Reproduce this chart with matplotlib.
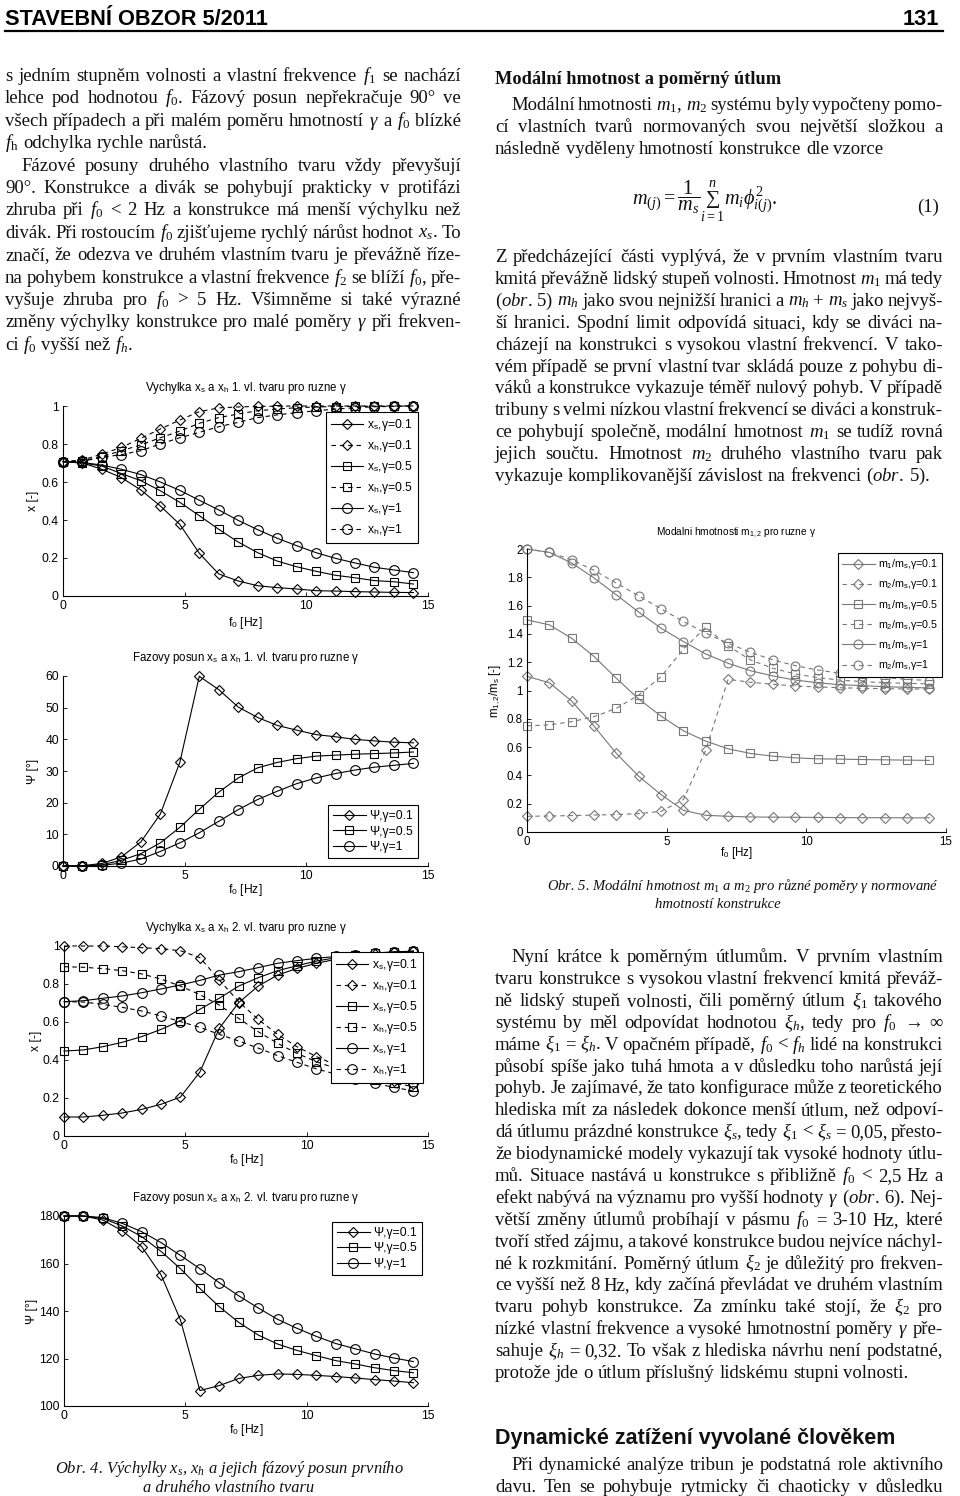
import matplotlib
matplotlib.use('Agg')
import matplotlib.pyplot as plt
from matplotlib.lines import Line2D
from matplotlib.ticker import FuncFormatter

plt.rcParams['mathtext.fontset'] = 'custom'
plt.rcParams['mathtext.rm'] = 'Liberation Serif'
plt.rcParams['mathtext.it'] = 'Liberation Serif:italic'
plt.rcParams['mathtext.bf'] = 'Liberation Serif:bold'

SERIF = ['Liberation Serif', 'DejaVu Serif']
SANS = ['Liberation Sans', 'DejaVu Sans']
NARROW = ['Liberation Sans Narrow', 'Liberation Sans', 'DejaVu Sans']

# ---------------- data ----------------
F0 = [0.0, 0.8, 1.6, 2.4, 3.2, 4.0, 4.8, 5.6, 6.4, 7.2, 8.0, 8.8, 9.6, 10.4, 11.2, 12.0, 12.8, 13.6, 14.4]

# first mode amplitudes
xs1_g01 = [0.707, 0.700, 0.667, 0.623, 0.558, 0.474, 0.377, 0.225, 0.116, 0.079, 0.054, 0.044, 0.037, 0.028, 0.026, 0.023, 0.021, 0.019, 0.018]
xh1_g01 = [0.707, 0.716, 0.747, 0.782, 0.830, 0.879, 0.926, 0.970, 0.990, 0.995, 0.998, 0.999, 1.0, 1.0, 1.0, 1.0, 1.0, 1.0, 1.0]
xs1_g05 = [0.707, 0.700, 0.684, 0.644, 0.607, 0.554, 0.493, 0.423, 0.351, 0.284, 0.228, 0.184, 0.154, 0.130, 0.109, 0.096, 0.081, 0.075, 0.063]
xh1_g05 = [0.707, 0.712, 0.733, 0.765, 0.795, 0.833, 0.868, 0.909, 0.939, 0.958, 0.975, 0.984, 0.991, 0.995, 0.997, 0.998, 0.999, 1.0, 1.0]
xs1_g1 = [0.707, 0.703, 0.689, 0.667, 0.639, 0.600, 0.556, 0.504, 0.453, 0.398, 0.349, 0.304, 0.265, 0.228, 0.198, 0.174, 0.151, 0.137, 0.123]
xh1_g1 = [0.707, 0.709, 0.730, 0.744, 0.765, 0.800, 0.833, 0.861, 0.891, 0.914, 0.939, 0.953, 0.965, 0.975, 0.984, 0.991, 0.996, 0.998, 1.0]

# first mode phase
psi1_g01 = [0, 0.1, 0.8, 2.9, 7.6, 16.4, 32.7, 59.9, 55.7, 50.2, 46.9, 44.4, 42.9, 41.5, 40.8, 40.0, 39.5, 39.1, 38.9]
psi1_g05 = [0, 0.05, 0.4, 1.8, 3.9, 7.3, 12.2, 17.9, 23.3, 27.8, 31.0, 32.7, 33.9, 34.7, 35.0, 35.3, 35.5, 35.7, 36.0]
psi1_g1 = [0, 0, 0.2, 0.9, 2.2, 4.6, 7.3, 10.5, 14.1, 17.8, 21.0, 23.6, 26.0, 27.8, 29.2, 30.3, 31.2, 31.8, 32.4]

# second mode amplitudes
xs2_g01 = [0.100, 0.100, 0.109, 0.121, 0.140, 0.167, 0.205, 0.337, 0.567, 0.702, 0.789, 0.847, 0.882, 0.909, 0.930, 0.948, 0.960, 0.967, 0.972]
xh2_g01 = [1.0, 1.0, 1.0, 0.996, 0.991, 0.986, 0.975, 0.939, 0.821, 0.707, 0.614, 0.535, 0.470, 0.418, 0.374, 0.330, 0.307, 0.289, 0.274]
xs2_g05 = [0.447, 0.453, 0.470, 0.493, 0.523, 0.561, 0.607, 0.667, 0.725, 0.789, 0.833, 0.870, 0.896, 0.921, 0.938, 0.952, 0.962, 0.968, 0.972]
xh2_g05 = [0.891, 0.888, 0.881, 0.870, 0.853, 0.826, 0.789, 0.744, 0.689, 0.619, 0.549, 0.488, 0.435, 0.391, 0.356, 0.321, 0.295, 0.277, 0.260]
xs2_g1 = [0.707, 0.712, 0.725, 0.737, 0.754, 0.774, 0.795, 0.819, 0.847, 0.865, 0.886, 0.909, 0.923, 0.935, 0.945, 0.955, 0.963, 0.969, 0.973]
xh2_g1 = [0.707, 0.705, 0.693, 0.677, 0.658, 0.632, 0.602, 0.572, 0.535, 0.500, 0.463, 0.423, 0.388, 0.353, 0.326, 0.300, 0.277, 0.256, 0.237]

# second mode phase
psi2_g01 = [180, 180, 178.3, 173.8, 167.1, 155.2, 136.2, 106.5, 108.6, 111.6, 112.9, 113.5, 113.3, 112.9, 112.4, 111.8, 111.1, 110.5, 109.8]
psi2_g05 = [180, 180, 179.0, 175.8, 171.3, 165.1, 157.8, 149.5, 141.8, 135.2, 129.9, 126.1, 123.4, 121.2, 119.1, 117.7, 116.1, 114.9, 114.0]
psi2_g1 = [180, 180, 179.3, 176.9, 173.4, 168.8, 163.4, 157.8, 151.9, 146.4, 141.3, 136.5, 132.7, 129.3, 126.3, 124.1, 121.9, 120.2, 118.7]

# modal masses
m1_g01 = [1.10, 1.055, 0.925, 0.748, 0.555, 0.394, 0.264, 0.153, 0.118, 0.111, 0.106, 0.105, 0.104, 0.103, 0.102, 0.101, 0.101, 0.100, 0.100]
m2_g01 = [0.111, 0.113, 0.116, 0.120, 0.123, 0.130, 0.146, 0.229, 0.579, 1.079, 1.058, 1.044, 1.032, 1.025, 1.020, 1.015, 1.013, 1.011, 1.010]
m1_g05 = [1.499, 1.464, 1.369, 1.240, 1.086, 0.940, 0.819, 0.715, 0.642, 0.588, 0.555, 0.536, 0.524, 0.517, 0.515, 0.512, 0.510, 0.508, 0.506]
m2_g05 = [0.750, 0.757, 0.780, 0.815, 0.874, 0.968, 1.098, 1.292, 1.447, 1.315, 1.216, 1.157, 1.117, 1.091, 1.074, 1.063, 1.055, 1.051, 1.046]
m1_g1 = [2.0, 1.976, 1.901, 1.795, 1.676, 1.554, 1.440, 1.346, 1.258, 1.192, 1.140, 1.103, 1.074, 1.055, 1.041, 1.034, 1.027, 1.022, 1.018]
m2_g1 = [2.0, 1.976, 1.924, 1.849, 1.759, 1.669, 1.577, 1.488, 1.405, 1.334, 1.270, 1.216, 1.176, 1.145, 1.122, 1.105, 1.091, 1.079, 1.070]

X_TICKS = [0, 5, 10, 15]
Y_TICKS_X = [0, 0.2, 0.4, 0.6, 0.8, 1]
Y_TICKS_PSI1 = [0, 10, 20, 30, 40, 50, 60]
Y_TICKS_PSI2 = [100, 120, 140, 160, 180]
Y_TICKS_M = [0, 0.2, 0.4, 0.6, 0.8, 1, 1.2, 1.4, 1.6, 1.8, 2]

LAB_X = [r"x$_\mathregular{s}$,γ=0.1", r"x$_\mathregular{h}$,γ=0.1", r"x$_\mathregular{s}$,γ=0.5",
         r"x$_\mathregular{h}$,γ=0.5", r"x$_\mathregular{s}$,γ=1", r"x$_\mathregular{h}$,γ=1"]
LAB_PSI = ["Ψ,γ=0.1", "Ψ,γ=0.5", "Ψ,γ=1"]
LAB_M = [r"m$_\mathregular{1}$/m$_\mathregular{s}$,γ=0.1", r"m$_\mathregular{2}$/m$_\mathregular{s}$,γ=0.1",
         r"m$_\mathregular{1}$/m$_\mathregular{s}$,γ=0.5", r"m$_\mathregular{2}$/m$_\mathregular{s}$,γ=0.5",
         r"m$_\mathregular{1}$/m$_\mathregular{s}$,γ=1", r"m$_\mathregular{2}$/m$_\mathregular{s}$,γ=1"]

# ---------------- figure ----------------
W, H = 960, 1496
fig = plt.figure(figsize=(W / 100, H / 100), dpi=100)
fig.patch.set_facecolor('white')
renderer = fig.canvas.get_renderer()


def fx(px):
    return px / W


def fy(py):
    return 1 - py / H


def measure(s, fs, **kw):
    t = fig.text(0, 0, s, fontsize=fs, **kw)
    w = t.get_window_extent(renderer).width
    t.remove()
    return w


def fit(s, target, **kw):
    return 12 * target / measure(s, 12, **kw)


def text_line(s, x0, x1, y, fs, justify=True, indent=0, **kw):
    words = s.split(' ')
    objs = [fig.text(0, fy(y), w, fontsize=fs, va='baseline', ha='left', color='#111111', **kw) for w in words]
    widths = [o.get_window_extent(renderer).width for o in objs]
    start = x0 + indent
    n = len(words)
    if justify and n > 1:
        gap = (x1 - start - sum(widths)) / (n - 1)
    else:
        gap = fs * 100 / 72 * 0.25
    x = start
    for o, w in zip(objs, widths):
        o.set_x(fx(x))
        x += w + gap


def block(lines, x0, x1, y0, dy, fs, **kw):
    for k, (s, ind, just) in enumerate(lines):
        text_line(s, x0, x1, y0 + k * dy, fs, justify=just, indent=ind, **kw)


# ---------------- header ----------------
fs_head = fit("STAVEBNÍ OBZOR 5/2011", 262, family=NARROW, weight='bold')
fig.text(fx(5), fy(25), "STAVEBNÍ OBZOR 5/2011", fontsize=fs_head, family=NARROW, weight='bold', va='baseline', ha='left')
fig.text(fx(939), fy(25), "131", fontsize=fs_head, family=NARROW, weight='bold', va='baseline', ha='right')
fig.add_artist(Line2D([fx(5), fx(943)], [fy(31), fy(31)], lw=1.6, color='black'))

# ---------------- body text ----------------
fs_body = fit("protože jde o útlum příslušný lidskému stupni volnosti.", 414, family=SERIF)

LX0, LX1 = 5, 461
RX0, RX1 = 495, 943

left_lines = [
    (r"s jedním stupněm volnosti a vlastní frekvence $f_1$ se nachází", 0, True),
    (r"lehce pod hodnotou $f_0$. Fázový posun nepřekračuje 90° ve", 0, True),
    (r"všech případech a při malém poměru hmotností $\gamma$ a $f_0$ blízké", 0, True),
    (r"$f_\mathrm{h}$ odchylka rychle narůstá.", 0, False),
    (r"Fázové posuny druhého vlastního tvaru vždy převyšují", 16, True),
    (r"90°. Konstrukce a divák se pohybují prakticky v protifázi", 0, True),
    (r"zhruba při $f_0$ < 2 Hz a konstrukce má menší výchylku než", 0, True),
    (r"divák. Při rostoucím $f_0$ zjišťujeme rychlý nárůst hodnot $x_s$. To", 0, True),
    (r"značí, že odezva ve druhém vlastním tvaru je převážně říze-", 0, True),
    (r"na pohybem konstrukce a vlastní frekvence $f_2$ se blíží $f_0$, pře-", 0, True),
    (r"vyšuje zhruba pro $f_0$ > 5 Hz. Všimněme si také výrazné", 0, True),
    (r"změny výchylky konstrukce pro malé poměry $\gamma$ při frekven-", 0, True),
    (r"ci $f_0$ vyšší než $f_h$.", 0, False),
]
block(left_lines, LX0, LX1, 81, 22.4, fs_body, family=SERIF)

fs_h2 = fit("Modální hmotnost a poměrný útlum", 283, family=SERIF, weight='bold')
fig.text(fx(RX0), fy(84), "Modální hmotnost a poměrný útlum", fontsize=fs_h2, family=SERIF,
         weight='bold', va='baseline', ha='left', color='#111111')

right_top = [
    (r"Modální hmotnosti $m_1$, $m_2$ systému byly vypočteny pomo-", 16, True),
    (r"cí vlastních tvarů normovaných svou největší složkou a", 0, True),
    (r"následně vyděleny hmotností konstrukce dle vzorce", 0, False),
]
block(right_top, RX0, RX1, 110, 22.0, fs_body, family=SERIF)

fig.text(fx(705), fy(201), r"$m_{(j)}=\dfrac{1}{m_s}\sum_{i=1}^{n}m_i\phi_{i(j)}^{2}.$",
         fontsize=fs_body * 1.08, ha='center', va='center', color='#111111')
fig.text(fx(939), fy(212), "(1)", fontsize=fs_body, family=SERIF, ha='right', va='baseline', color='#111111')

right_mid = [
    (r"Z předcházející části vyplývá, že v prvním vlastním tvaru", 0, True),
    (r"kmitá převážně lidský stupeň volnosti. Hmotnost $m_1$ má tedy", 0, True),
    (r"($\mathit{obr.}$ $\mathit{5}$) $m_h$ jako svou nejnižší hranici a $m_h$ + $m_s$ jako nejvyš-", 0, True),
    (r"ší hranici. Spodní limit odpovídá situaci, kdy se diváci na-", 0, True),
    (r"cházejí na konstrukci s vysokou vlastní frekvencí. V tako-", 0, True),
    (r"vém případě se první vlastní tvar skládá pouze z pohybu di-", 0, True),
    (r"váků a konstrukce vykazuje téměř nulový pohyb. V případě", 0, True),
    (r"tribuny s velmi nízkou vlastní frekvencí se diváci a konstruk-", 0, True),
    (r"ce pohybují společně, modální hmotnost $m_1$ se tudíž rovná", 0, True),
    (r"jejich součtu. Hmotnost $m_2$ druhého vlastního tvaru pak", 0, True),
    (r"vykazuje komplikovanější závislost na frekvenci ($\mathit{obr.}$ $\mathit{5}$).", 0, False),
]
block(right_mid, RX0, RX1, 262, 21.9, fs_body, family=SERIF)

right_bot = [
    (r"Nyní krátce k poměrným útlumům. V prvním vlastním", 16, True),
    (r"tvaru konstrukce s vysokou vlastní frekvencí kmitá převáž-", 0, True),
    (r"ně lidský stupeň volnosti, čili poměrný útlum $\xi_1$ takového", 0, True),
    (r"systému by měl odpovídat hodnotou $\xi_h$, tedy pro $f_0$ → ∞", 0, True),
    (r"máme $\xi_1$ = $\xi_h$. V opačném případě, $f_0$ < $f_h$ lidé na konstrukci", 0, True),
    (r"působí spíše jako tuhá hmota a v důsledku toho narůstá její", 0, True),
    (r"pohyb. Je zajímavé, že tato konfigurace může z teoretického", 0, True),
    (r"hlediska mít za následek dokonce menší útlum, než odpoví-", 0, True),
    (r"dá útlumu prázdné konstrukce $\xi_s$, tedy $\xi_1$ < $\xi_s$ = 0,05, přesto-", 0, True),
    (r"že biodynamické modely vykazují tak vysoké hodnoty útlu-", 0, True),
    (r"mů. Situace nastává u konstrukce s přibližně $f_0$ < 2,5 Hz a", 0, True),
    (r"efekt nabývá na významu pro vyšší hodnoty $\gamma$ ($\mathit{obr.}$ $\mathit{6}$). Nej-", 0, True),
    (r"větší změny útlumů probíhají v pásmu $f_0$ = 3-10 Hz, které", 0, True),
    (r"tvoří střed zájmu, a takové konstrukce budou nejvíce náchyl-", 0, True),
    (r"né k rozkmitání. Poměrný útlum $\xi_2$ je důležitý pro frekven-", 0, True),
    (r"ce vyšší než 8 Hz, kdy začíná převládat ve druhém vlastním", 0, True),
    (r"tvaru pohyb konstrukce. Za zmínku také stojí, že $\xi_2$ pro", 0, True),
    (r"nízké vlastní frekvence a vysoké hmotnostní poměry $\gamma$ pře-", 0, True),
    (r"sahuje $\xi_h$ = 0,32. To však z hlediska návrhu není podstatné,", 0, True),
    (r"protože jde o útlum příslušný lidskému stupni volnosti.", 0, False),
]
block(right_bot, RX0, RX1, 962, 21.9, fs_body, family=SERIF)

fs_h3 = fit("Dynamické zatížení vyvolané člověkem", 398, family=SANS, weight='black')
fig.text(fx(RX0), fy(1444), "Dynamické zatížení vyvolané člověkem", fontsize=fs_h3, family=SANS,
         weight='black', va='baseline', ha='left', color='#111111')

last_lines = [
    (r"Při dynamické analýze tribun je podstatná role aktivního", 16, True),
    (r"davu. Ten se pohybuje rytmicky či chaoticky v důsledku", 0, True),
]
block(last_lines, RX0, RX1, 1470, 22.0, fs_body, family=SERIF)

# captions
cap4a = r"Obr. 4. Výchylky $x_s$, $x_h$ a jejich fázový posun prvního"
cap4b = "a druhého vlastního tvaru"
fs_cap4 = fit(cap4a, 348, family=SERIF, style='italic')
fig.text(fx(229), fy(1473), cap4a, fontsize=fs_cap4, family=SERIF, style='italic', ha='center', va='baseline', color='#111111')
fig.text(fx(229), fy(1492), cap4b, fontsize=fs_cap4, family=SERIF, style='italic', ha='center', va='baseline', color='#111111')

cap5a = r"Obr. 5. Modální hmotnost $m_1$ a $m_2$ pro různé poměry $\gamma$ normované"
cap5b = "hmotností konstrukce"
fs_cap5 = fit(cap5a, 390, family=SERIF, style='italic')
fig.text(fx(743), fy(890), cap5a, fontsize=fs_cap5, family=SERIF, style='italic', ha='center', va='baseline', color='#111111')
fig.text(fx(718), fy(908), cap5b, fontsize=fs_cap5, family=SERIF, style='italic', ha='center', va='baseline', color='#111111')


# ---------------- charts ----------------
def gfmt(v, pos):
    return '%g' % v


def chart(x0, ytop, x1, ybot, ylim, yticks, series, title, title_y, ylabel, ylabel_x, xlabel_y,
          leg_loc, leg_xy, color='black', fs=8.7, lfs=8.7, tfs=8.3, lsp=0.42, hl=2.7, ms_scale=1.0):
    ax = fig.add_axes([fx(x0), fy(ybot), (x1 - x0) / W, (ybot - ytop) / H])
    ax.set_facecolor('none')
    for y, mk, ls, lab, ms in series:
        ax.plot(F0, y, color=color, marker=mk, linestyle=ls, lw=0.8, ms=ms * ms_scale, mfc='none',
                mec=color, mew=0.8, label=lab, clip_on=False)
    ax.set_xlim(0, 15)
    ax.set_ylim(*ylim)
    ax.set_xticks(X_TICKS)
    ax.set_yticks(yticks)
    ax.yaxis.set_major_formatter(FuncFormatter(gfmt))
    ax.xaxis.set_major_formatter(FuncFormatter(gfmt))
    for sp in ['top', 'right']:
        ax.spines[sp].set_visible(False)
    for sp in ['left', 'bottom']:
        ax.spines[sp].set_linewidth(0.8)
        ax.spines[sp].set_color('black')
    ax.tick_params(direction='in', length=3, width=0.6, labelsize=fs, pad=3, colors='black')
    for lab in ax.get_xticklabels() + ax.get_yticklabels():
        lab.set_family(SANS)
    axh = ybot - ytop
    axw = x1 - x0
    ax.text(0.5, 1 + (ytop - title_y) / axh, title, transform=ax.transAxes, ha='center', va='center',
            fontsize=tfs, family=SANS)
    ax.set_xlabel(r"f$_\mathregular{0}$ [Hz]", fontsize=fs, family=SANS)
    ax.xaxis.set_label_coords(0.5, -(xlabel_y - ybot) / axh)
    ax.xaxis.label.set_va('center')
    ax.set_ylabel(ylabel, fontsize=fs, family=SANS)
    ax.yaxis.set_label_coords(-(x0 - ylabel_x) / axw, 0.5)
    ax.yaxis.label.set_va('center')
    leg = ax.legend(loc=leg_loc, bbox_to_anchor=(fx(leg_xy[0]), fy(leg_xy[1])), bbox_transform=fig.transFigure,
                    borderaxespad=0, fancybox=False, edgecolor='black', framealpha=1, frameon=True,
                    prop={'family': SANS, 'size': lfs}, handlelength=hl, handletextpad=0.3,
                    labelspacing=lsp, borderpad=0.4, numpoints=1)
    leg.get_frame().set_linewidth(0.8)
    return ax


DASH = (0, (4, 3.5))

chart(63, 406, 428, 596, (0, 1), Y_TICKS_X,
      [(xs1_g01, 'D', '-', LAB_X[0], 5.2), (xh1_g01, 'D', DASH, LAB_X[1], 5.2),
       (xs1_g05, 's', '-', LAB_X[2], 6.0), (xh1_g05, 's', DASH, LAB_X[3], 6.0),
       (xs1_g1, 'o', '-', LAB_X[4], 7.0), (xh1_g1, 'o', DASH, LAB_X[5], 7.0)],
      r"Vychylka x$_\mathregular{s}$ a x$_\mathregular{h}$ 1. vl. tvaru pro ruzne γ", 388,
      "x [-]", 33, 623, 'upper right', (418, 412))

chart(63, 676, 428, 866, (0, 60), Y_TICKS_PSI1,
      [(psi1_g01, 'D', '-', LAB_PSI[0], 5.2), (psi1_g05, 's', '-', LAB_PSI[1], 6.0),
       (psi1_g1, 'o', '-', LAB_PSI[2], 7.0)],
      r"Fazovy posun x$_\mathregular{s}$ a x$_\mathregular{h}$ 1. vl. tvaru pro ruzne γ", 658,
      "Ψ [°]", 33, 890, 'lower right', (418, 858), lsp=0.3)

chart(64, 946, 428, 1136, (0, 1), Y_TICKS_X,
      [(xs2_g01, 'D', '-', LAB_X[0], 5.2), (xh2_g01, 'D', DASH, LAB_X[1], 5.2),
       (xs2_g05, 's', '-', LAB_X[2], 6.0), (xh2_g05, 's', DASH, LAB_X[3], 6.0),
       (xs2_g1, 'o', '-', LAB_X[4], 7.0), (xh2_g1, 'o', DASH, LAB_X[5], 7.0)],
      r"Vychylka x$_\mathregular{s}$ a x$_\mathregular{h}$ 2. vl. tvaru pro ruzne γ", 928,
      "x [-]", 36, 1160, 'upper right', (423, 952))

chart(64, 1216, 428, 1406, (100, 180), Y_TICKS_PSI2,
      [(psi2_g01, 'D', '-', LAB_PSI[0], 5.2), (psi2_g05, 's', '-', LAB_PSI[1], 6.0),
       (psi2_g1, 'o', '-', LAB_PSI[2], 7.0)],
      r"Fazovy posun x$_\mathregular{s}$ a x$_\mathregular{h}$ 2. vl. tvaru pro ruzne γ", 1198,
      "Ψ [°]", 32, 1430, 'upper right', (422, 1222), lsp=0.3)

chart(527, 549, 946, 832, (0, 2), Y_TICKS_M,
      [(m1_g01, 'D', '-', LAB_M[0], 4.6), (m2_g01, 'D', DASH, LAB_M[1], 4.6),
       (m1_g05, 's', '-', LAB_M[2], 5.4), (m2_g05, 's', DASH, LAB_M[3], 5.4),
       (m1_g1, 'o', '-', LAB_M[4], 6.4), (m2_g1, 'o', DASH, LAB_M[5], 6.4)],
      r"Modalni hmotnosti m$_\mathregular{1,2}$ pro ruzne γ", 533,
      r"m$_\mathregular{1,2}$/m$_\mathregular{s}$ [-]", 495, 853, 'upper right', (942, 553),
      color='#777777', fs=8.3, lfs=7.7, tfs=7.3, lsp=0.58, hl=3.0)

fig.savefig('out.png', dpi=100, facecolor='white')
